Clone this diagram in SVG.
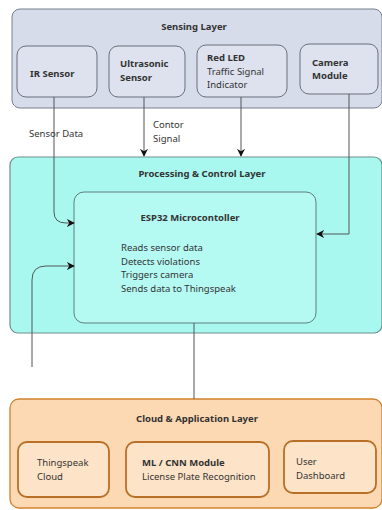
<svg xmlns="http://www.w3.org/2000/svg" width="382" height="510" viewBox="0 0 382 510">
<defs>
<style>
text{font-family:"Noto Sans","Open Sans","DejaVu Sans",sans-serif;font-size:9.5px;fill:#333}
.b{font-weight:bold}
.sense{fill:#d7dcea;stroke:#7a7f8c;stroke-width:1}
.sbox{fill:#dde2ee;stroke:#6b6f7a;stroke-width:1}
.proc{fill:#a8f8f0;stroke:#6b8f8c;stroke-width:1.2}
.esp{fill:#b4faf3;stroke:#5f7f7c;stroke-width:1}
.cloud{fill:#fdd9b3;stroke:#d1822e;stroke-width:1.3}
.cbox{fill:#fde3c8;stroke:#b86f26;stroke-width:1.8}
.c{fill:none;stroke:#555;stroke-width:1}
</style>
<marker id="ah" viewBox="0 0 10 10" refX="9" refY="5" markerWidth="8" markerHeight="8" orient="auto" markerUnits="userSpaceOnUse">
<path d="M0,0 L10,5 L0,10 L3,5 Z" fill="#111"/>
</marker>
</defs>
<g id="sensing-layer">
<rect class="sense" x="12" y="9" width="370" height="99" rx="8"/>
<text class="b" x="194" y="30" text-anchor="middle">Sensing Layer</text>
</g>
<g id="ir-sensor">
<rect class="sbox" x="17" y="46" width="80" height="51" rx="9"/>
<text class="b" x="30" y="77">IR Sensor</text>
</g>
<g id="ultrasonic-sensor">
<rect class="sbox" x="109" y="46" width="76" height="51" rx="9"/>
<text class="b" x="120" y="67">Ultrasonic</text>
<text class="b" x="120" y="81">Sensor</text>
</g>
<g id="red-led">
<rect class="sbox" x="197" y="45" width="90" height="52" rx="9"/>
<text class="b" x="207" y="61">Red LED</text>
<text x="207" y="75">Traffic Signal</text>
<text x="207" y="88">Indicator</text>
</g>
<g id="camera-module">
<rect class="sbox" x="300" y="44" width="78" height="50" rx="9"/>
<text class="b" x="312" y="66">Camera</text>
<text class="b" x="312" y="79">Module</text>
</g>
<g id="processing-layer">
<rect class="proc" x="10" y="157" width="372" height="176" rx="8"/>
<text class="b" x="202" y="177" text-anchor="middle">Processing &amp; Control Layer</text>
</g>
<g id="esp32">
<rect class="esp" x="74" y="192" width="242" height="131" rx="10"/>
<text class="b" x="190" y="221" text-anchor="middle">ESP32 Microcontoller</text>
<text x="121" y="251">Reads sensor data</text>
<text x="121" y="265">Detects violations</text>
<text x="121" y="278">Triggers camera</text>
<text x="121" y="292">Sends data to Thingspeak</text>
</g>
<g id="cloud-layer">
<rect class="cloud" x="10" y="399" width="372" height="109" rx="9"/>
<text class="b" x="197" y="422" text-anchor="middle">Cloud &amp; Application Layer</text>
</g>
<g id="thingspeak-cloud">
<rect class="cbox" x="18" y="442" width="91" height="55" rx="9"/>
<text x="37" y="466">Thingspeak</text>
<text x="37" y="480">Cloud</text>
</g>
<g id="ml-cnn">
<rect class="cbox" x="126" y="442" width="143" height="55" rx="9"/>
<text class="b" x="142" y="466">ML / CNN Module</text>
<text x="142" y="480">License Plate Recognition</text>
</g>
<g id="user-dashboard">
<rect class="cbox" x="284" y="441" width="92" height="52" rx="9"/>
<text x="296" y="465">User</text>
<text x="296" y="479">Dashboard</text>
</g>
<g id="connectors">
<path class="c" d="M54,97 V212 Q54,223 66,223 H74" marker-end="url(#ah)"/>
<path class="c" d="M144,97 V156" marker-end="url(#ah)"/>
<path class="c" d="M241,97 V156" marker-end="url(#ah)"/>
<path class="c" d="M349,94 V234 H317" marker-end="url(#ah)"/>
<path class="c" d="M32,367 V280 Q32,266 46,266 H74" marker-end="url(#ah)"/>
<path class="c" d="M194,323 V399"/>
<text x="29" y="137">Sensor Data</text>
<text x="153" y="128">Contor</text>
<text x="153" y="142">Signal</text>
</g>
</svg>
